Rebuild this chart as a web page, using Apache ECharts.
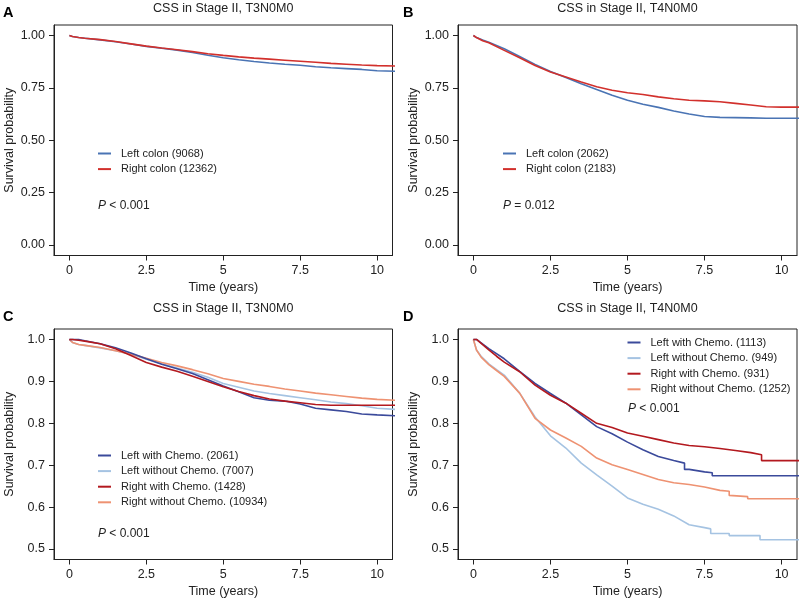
<!DOCTYPE html>
<html>
<head>
<meta charset="utf-8">
<script src="https://cdn.jsdelivr.net/npm/echarts@6/dist/echarts.min.js"></script>
<style>
  html, body { margin: 0; padding: 0; background: #fff; }
  #chart { width: 800px; height: 601px; }
</style>
</head>
<body>
<div id="chart"></div>
<script>
// time points (years) and survival
const timeAB = [0, 0.1, 0.3, 0.5, 1, 1.5, 2, 2.5, 3, 3.5, 4, 4.5, 5, 5.5, 6, 6.5, 7, 7.5, 8, 8.5, 9, 9.5, 10, 10.6]
const leftA  = [1.0, 0.995, 0.99, 0.987, 0.979, 0.970, 0.959, 0.948, 0.939, 0.930, 0.919, 0.906, 0.894, 0.884, 0.876, 0.869, 0.863, 0.858, 0.851, 0.846, 0.842, 0.838, 0.832, 0.829]
const rightA = [1.0, 0.995, 0.99, 0.987, 0.980, 0.971, 0.960, 0.949, 0.940, 0.932, 0.923, 0.913, 0.905, 0.898, 0.892, 0.887, 0.882, 0.877, 0.872, 0.867, 0.863, 0.859, 0.856, 0.854]
const leftB  = [1.0, 0.99, 0.978, 0.968, 0.937, 0.900, 0.862, 0.828, 0.800, 0.770, 0.742, 0.715, 0.691, 0.672, 0.657, 0.640, 0.625, 0.613, 0.609, 0.608, 0.607, 0.605, 0.605, 0.605]
const rightB = [1.0, 0.99, 0.975, 0.965, 0.929, 0.894, 0.857, 0.826, 0.802, 0.778, 0.755, 0.739, 0.727, 0.718, 0.707, 0.698, 0.691, 0.688, 0.684, 0.676, 0.668, 0.660, 0.658, 0.658]

const timeC = [0, 0.1, 0.3, 0.5, 1, 1.5, 2, 2.5, 3, 3.5, 4, 4.5, 5, 5.5, 6, 6.5, 7, 7.5, 8, 8.5, 9, 9.5, 10, 10.6]
const leftChemoC  = [1.0, 1.0, 1.0, 0.997, 0.99, 0.98, 0.968, 0.954, 0.941, 0.930, 0.919, 0.904, 0.889, 0.875, 0.861, 0.855, 0.853, 0.846, 0.836, 0.832, 0.828, 0.822, 0.82, 0.818]
const leftNoC     = [1.0, 0.993, 0.988, 0.986, 0.980, 0.973, 0.965, 0.953, 0.942, 0.932, 0.922, 0.910, 0.895, 0.886, 0.877, 0.871, 0.866, 0.861, 0.856, 0.851, 0.847, 0.842, 0.836, 0.833]
const rightChemoC = [1.0, 1.0, 0.998, 0.996, 0.99, 0.978, 0.962, 0.945, 0.934, 0.924, 0.912, 0.9, 0.887, 0.876, 0.866, 0.858, 0.853, 0.849, 0.845, 0.843, 0.843, 0.843, 0.843, 0.843]
const rightNoC    = [1.0, 0.993, 0.988, 0.986, 0.981, 0.973, 0.965, 0.955, 0.945, 0.937, 0.928, 0.918, 0.907, 0.9, 0.893, 0.888, 0.882, 0.877, 0.872, 0.868, 0.864, 0.86, 0.857, 0.855]

const tLeftChemoD  = [0, 0.1, 0.5, 1, 1.5, 2, 2.5, 3, 3.5, 4, 4.5, 5, 5.5, 6, 6.5, 6.85, 6.85, 7, 7.5, 7.75, 7.75, 10.6]
const leftChemoD   = [1.0, 1.0, 0.978, 0.954, 0.924, 0.895, 0.871, 0.848, 0.82, 0.792, 0.775, 0.755, 0.737, 0.721, 0.711, 0.705, 0.69, 0.69, 0.684, 0.682, 0.675, 0.675]
const tLeftNoD     = [0, 0.1, 0.25, 0.5, 0.75, 1, 1.5, 2, 2.5, 3, 3.5, 4, 4.5, 5, 5.5, 6, 6.5, 7, 7.5, 7.7, 7.7, 8.3, 8.3, 9.3, 9.3, 10.6]
const leftNoD      = [1.0, 0.975, 0.96, 0.942, 0.928, 0.915, 0.872, 0.815, 0.77, 0.741, 0.705, 0.677, 0.65, 0.622, 0.607, 0.595, 0.579, 0.558, 0.551, 0.548, 0.537, 0.537, 0.532, 0.532, 0.522, 0.522]
const tRightChemoD = [0, 0.1, 0.5, 0.75, 1, 1.5, 2, 2.5, 3, 3.5, 4, 4.5, 5, 5.5, 6, 6.5, 7, 7.5, 8, 8.5, 9, 9.35, 9.35, 10.6]
const rightChemoD  = [1.0, 1.0, 0.975, 0.96, 0.946, 0.923, 0.891, 0.867, 0.848, 0.824, 0.8, 0.79, 0.777, 0.769, 0.761, 0.753, 0.747, 0.744, 0.74, 0.735, 0.73, 0.725, 0.711, 0.711]
const tRightNoD    = [0, 0.1, 0.25, 0.5, 0.75, 1, 1.5, 2, 2.5, 3, 3.5, 4, 4.5, 5, 5.5, 6, 6.5, 7, 7.5, 8, 8.3, 8.3, 8.9, 8.9, 10.6]
const rightNoD     = [1.0, 0.975, 0.958, 0.94, 0.926, 0.912, 0.872, 0.812, 0.784, 0.765, 0.745, 0.717, 0.701, 0.69, 0.678, 0.666, 0.658, 0.654, 0.648, 0.64, 0.638, 0.628, 0.625, 0.62, 0.62]

const xTicks = [0, 2.5, 5, 7.5, 10]
const yTicksAB = [0, 0.25, 0.5, 0.75, 1]
const yTicksCD = [0.5, 0.6, 0.7, 0.8, 0.9, 1.0]

const namesAB = [['Left colon (9068)', 'Right colon (12362)'], ['Left colon (2062)', 'Right colon (2183)']]
const namesC = ['Left with Chemo. (2061)', 'Left without Chemo. (7007)', 'Right with Chemo. (1428)', 'Right without Chemo. (10934)']
const namesD = ['Left with Chemo. (1113)', 'Left without Chemo. (949)', 'Right with Chemo. (931)', 'Right without Chemo. (1252)']
const pTexts = ['< 0.001', '= 0.012', '< 0.001', '< 0.001']

const FONT = 'Liberation Sans, Arial, sans-serif'
const INK = '#222'
const colAB = ['#4a74b4', '#d2302c']
const colCD = ['#3b4a9b', '#a5c3e2', '#b3191f', '#ee9272']

const zip = (t, v) => t.map((x, i) => [x, v[i]])

const grids = [
  { left: 54, top: 25, width: 338.5, height: 230.5 },
  { left: 458, top: 25, width: 339, height: 230.5 },
  { left: 54, top: 329, width: 338.5, height: 230.5 },
  { left: 458, top: 329, width: 339, height: 230.5 }
].map(g => Object.assign(g, { show: true, borderColor: INK, borderWidth: 1, backgroundColor: 'transparent' }))

const xAxes = grids.map((g, i) => ({
  type: 'value', gridIndex: i, min: -0.5, max: 10.5,
  name: 'Time (years)', nameLocation: 'middle', nameGap: 26,
  nameTextStyle: { fontFamily: FONT, fontSize: 12.5, color: INK },
  axisLine: { show: true, onZero: false, lineStyle: { color: INK } },
  axisTick: { show: true, length: 5, lineStyle: { color: INK }, customValues: xTicks },
  axisLabel: { fontFamily: FONT, fontSize: 12.5, color: INK, margin: 9, customValues: xTicks,
    formatter: v => String(v) },
  splitLine: { show: false }
}))

const yAxes = grids.map((g, i) => {
  const ab = i < 2
  return {
    type: 'value', gridIndex: i,
    min: ab ? -0.05 : 0.475, max: ab ? 1.05 : 1.025,
    name: 'Survival probability', nameLocation: 'middle', nameGap: 38,
    nameTextStyle: { fontFamily: FONT, fontSize: 12.5, color: INK },
    axisLine: { show: true, onZero: false, lineStyle: { color: INK } },
    axisTick: { show: true, length: 5, lineStyle: { color: INK }, customValues: ab ? yTicksAB : yTicksCD },
    axisLabel: { fontFamily: FONT, fontSize: 12.5, color: INK, margin: 9,
      customValues: ab ? yTicksAB : yTicksCD,
      formatter: v => v.toFixed(ab ? 2 : 1) },
    splitLine: { show: false }
  }
})

const line = (name, data, color, i) => ({
  name, type: 'line', xAxisIndex: i, yAxisIndex: i, data,
  showSymbol: false, symbol: 'none', clip: true,
  lineStyle: { color, width: 1.6 }, itemStyle: { color },
  emphasis: { disabled: true }
})

const series = [
  line(namesAB[0][0], zip(timeAB, leftA), colAB[0], 0),
  line(namesAB[0][1], zip(timeAB, rightA), colAB[1], 0),
  line(namesAB[1][0], zip(timeAB, leftB), colAB[0], 1),
  line(namesAB[1][1], zip(timeAB, rightB), colAB[1], 1),
  line(namesC[1], zip(timeC, leftNoC), colCD[1], 2),
  line(namesC[3], zip(timeC, rightNoC), colCD[3], 2),
  line(namesC[0], zip(timeC, leftChemoC), colCD[0], 2),
  line(namesC[2], zip(timeC, rightChemoC), colCD[2], 2),
  line(namesD[1], zip(tLeftNoD, leftNoD), colCD[1], 3),
  line(namesD[3], zip(tRightNoD, rightNoD), colCD[3], 3),
  line(namesD[0], zip(tLeftChemoD, leftChemoD), colCD[0], 3),
  line(namesD[2], zip(tRightChemoD, rightChemoD), colCD[2], 3)
]

const legendPos = [[98, 148], [503, 148], [98, 450], [627.5, 337]]
const legendData = [namesAB[0], namesAB[1], namesC, namesD]
const legend = legendData.map((d, i) => ({
  data: d, orient: 'vertical', left: legendPos[i][0], top: legendPos[i][1],
  icon: 'rect', itemWidth: 13, itemHeight: 2, itemGap: 4.6, padding: 0,
  selectedMode: false,
  textStyle: { fontFamily: FONT, fontSize: 11, color: INK, padding: [0, 0, 0, 5] }
}))

const titleText = ['CSS in Stage II, T3N0M0', 'CSS in Stage II, T4N0M0', 'CSS in Stage II, T3N0M0', 'CSS in Stage II, T4N0M0']
const titles = []
grids.forEach((g, i) => {
  titles.push({
    text: titleText[i], left: g.left + g.width / 2, textAlign: 'center', top: i < 2 ? 2.5 : 302.5,
    padding: 0, textStyle: { fontFamily: FONT, fontSize: 12.5, fontWeight: 'normal', color: INK }
  })
  titles.push({
    text: 'ABCD'[i], left: i % 2 ? 403 : 3, top: i < 2 ? 5 : 309, padding: 0,
    textStyle: { fontFamily: FONT, fontSize: 14.5, fontWeight: 'bold', color: '#000' }
  })
})

const pPos = [[98, 200], [503, 200], [98, 528], [628, 403]]
const graphic = pPos.map((p, i) => ({
  type: 'text', left: p[0], top: p[1],
  style: {
    text: '{i|P} ' + pTexts[i],
    font: '12px ' + FONT, fill: INK,
    rich: { i: { fontStyle: 'italic', fontFamily: FONT, fontSize: 12, fill: INK } }
  }
}))

const chart = echarts.init(document.getElementById('chart'))
chart.setOption({
  animation: false,
  backgroundColor: '#fff',
  title: titles,
  grid: grids,
  xAxis: xAxes,
  yAxis: yAxes,
  legend,
  graphic,
  series
})
</script>
</body>
</html>
